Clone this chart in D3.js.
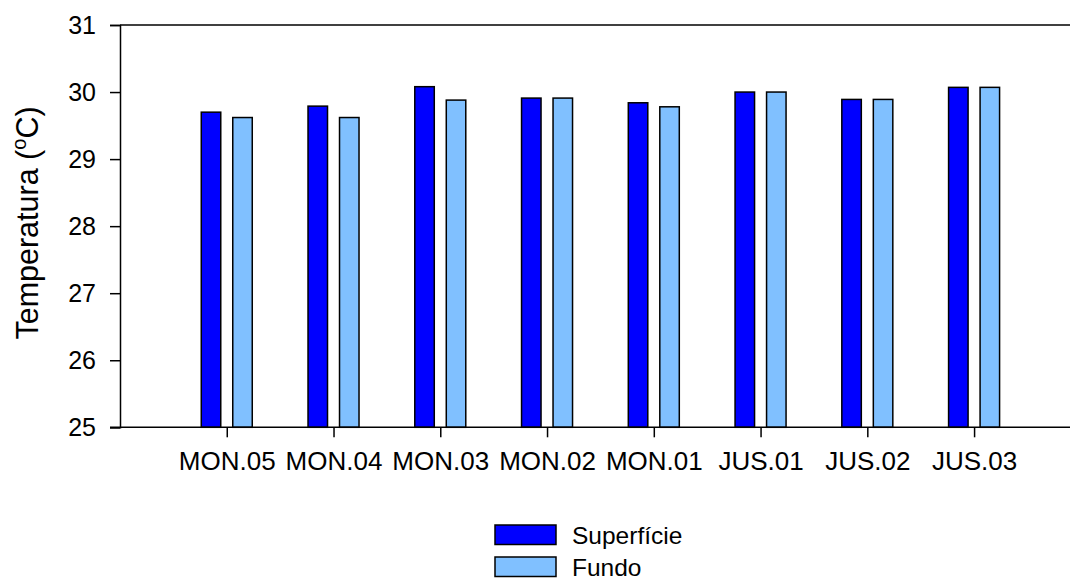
<!DOCTYPE html>
<html>
<head>
<meta charset="utf-8">
<script src="https://cdn.jsdelivr.net/npm/d3@7"></script>
<style>
  html, body { margin: 0; padding: 0; background: #fff; }
  svg { display: block; font-family: "Liberation Sans", Arial, sans-serif; }
</style>
</head>
<body>
<svg id="chart" width="1070" height="581"></svg>
<script>
// Station codes along the river
const stations = ["MON.05", "MON.04", "MON.03", "MON.02", "MON.01", "JUS.01", "JUS.02", "JUS.03"];
// Water temperature (°C) at the surface and at the bottom
const superficie = [29.70, 29.79, 30.08, 29.91, 29.84, 30.00, 29.89, 30.07];
const fundo      = [29.62, 29.62, 29.88, 29.91, 29.78, 30.00, 29.89, 30.07];
const seriesNames = ["Superfície", "Fundo"];
const seriesColors = ["#0000ff", "#80c0ff"];
const yTicks = [25, 26, 27, 28, 29, 30, 31];

const svg = d3.select("#chart");
const plotLeft = 120, plotTop = 25, plotBottom = 427.3;

// positions 1..8 for stations, with an empty slot on each side
const x = d3.scaleLinear().domain([0, stations.length + 1]).range([plotLeft, plotLeft + 106.76 * (stations.length + 1)]);
const y = d3.scaleLinear().domain([25, 31]).range([plotBottom, plotTop]);
const sub = d3.scaleBand().domain(seriesNames).range([-25.5, 25.5]).paddingInner(0.381);

const rows = stations.map((s, i) => ({ station: s, pos: i + 1, values: [superficie[i], fundo[i]] }));

// bars
const groups = svg.append("g").selectAll("g").data(rows).join("g")
  .attr("transform", d => `translate(${x(d.pos)},0)`);
groups.selectAll("rect")
  .data(d => d.values.map((v, k) => ({ name: seriesNames[k], value: v, k })))
  .join("rect")
  .attr("x", d => sub(d.name))
  .attr("width", sub.bandwidth())
  .attr("y", d => y(d.value))
  .attr("height", d => y(25) - y(d.value))
  .attr("fill", d => seriesColors[d.k])
  .attr("stroke", "#000")
  .attr("stroke-width", 1.5);

// y axis
const yAxis = svg.append("g").attr("transform", `translate(${plotLeft},0)`)
  .call(d3.axisLeft(y).tickValues(yTicks).tickFormat(d3.format("d")).tickSizeOuter(0).tickSize(10).tickPadding(14));
// x axis
const xAxis = svg.append("g").attr("transform", `translate(0,${plotBottom})`)
  .call(d3.axisBottom(x).tickValues(rows.map(r => r.pos)).tickFormat((d, i) => stations[i])
        .tickSizeOuter(0).tickSize(10).tickPadding(14));
// top frame line
svg.append("line")
  .attr("x1", plotLeft).attr("x2", x(stations.length + 1))
  .attr("y1", y(31)).attr("y2", y(31))
  .attr("stroke", "#000").attr("stroke-width", 1.5);

[yAxis, xAxis].forEach(a => {
  a.select(".domain").attr("stroke", "#000").attr("stroke-width", 1.5);
  a.selectAll(".tick line").attr("stroke", "#000").attr("stroke-width", 1.5);
  a.selectAll(".tick text").attr("fill", "#000")
    .attr("font-family", "'Liberation Sans', Arial, sans-serif");
});
yAxis.selectAll(".tick text").attr("font-size", 25);
xAxis.selectAll(".tick text").attr("font-size", 26);
// extend bottom axis line to the left tick
xAxis.select(".domain").attr("d", `M${plotLeft - 10},0H${x(stations.length + 1)}`);

// y axis title
const yt = svg.append("text")
  .attr("transform", `translate(38,223) rotate(-90)`)
  .attr("text-anchor", "middle")
  .attr("font-size", 30.5)
  .attr("fill", "#000");
yt.append("tspan").text("Temperatura (");
yt.append("tspan").text("o").attr("font-size", 20).attr("dy", -12);
yt.append("tspan").text("C)").attr("dy", 12);

// legend
const legend = svg.append("g").attr("transform", "translate(495,525)");
seriesNames.forEach((name, k) => {
  const g = legend.append("g").attr("transform", `translate(0,${k * 32})`);
  g.append("rect").attr("width", 61).attr("height", 19.5)
    .attr("fill", seriesColors[k]).attr("stroke", "#000").attr("stroke-width", 1.5);
  g.append("text").attr("x", 77).attr("y", 18.5).attr("font-size", 24.5).attr("fill", "#000").text(name);
});
</script>
</body>
</html>
